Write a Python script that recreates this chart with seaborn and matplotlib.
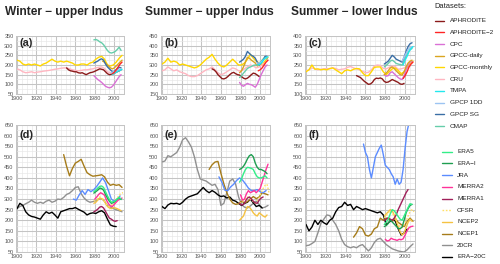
import matplotlib
matplotlib.use("Agg")
import matplotlib.pyplot as plt
from matplotlib.lines import Line2D
from matplotlib.ticker import MultipleLocator
import seaborn as sns

# ---------------- data ----------------
Y3 = list(range(1900, 2009, 3))      # 1900..2008
Y3C = list(range(1900, 2007, 3))     # 1900..2005
Y3E = list(range(1900, 2004, 3))     # 1900..2002
YA = list(range(1951, 2008, 2))      # APHRODITE (winter)
YA2 = list(range(1951, 2000, 2))     # APHRODITE (summer)
YS = list(range(1979, 2009, 2))      # satellite era
YT = [1998, 2000, 2002, 2004, 2006, 2008]
YD = [1997, 1999, 2001, 2003, 2005, 2007]
YGD = list(range(1988, 2009, 2))
YN1 = list(range(1948, 2009, 3))
YJ = list(range(1958, 2007, 3))
YJF = list(range(1958, 2009, 2))
YM2 = list(range(1980, 2009, 2))
YM1 = list(range(1979, 2004, 2))
YCF = list(range(1979, 2010, 2))

# (a) Winter - upper Indus
a_gpccm = [225,220,205,200,205,200,205,200,195,205,210,220,230,220,215,220,215,220,215,210,
           200,200,205,205,200,210,215,230,240,245,230,200,195,200,215,235,250]
a_cru = [180,175,165,160,162,165,160,163,165,168,170,172,175,178,180,183,185,185,180,175,
         172,170,172,175,175,178,180,185,188,190,182,165,160,165,170,175]
a_aphro = [185,175,170,168,165,165,160,158,160,155,150,155,160,162,165,170,175,180,178,175,
           165,155,150,152,155,160,165,170,175]
a_aphro2 = [155,162,175,190,205,215]
a_cmap = [330,332,328,320,315,305,290,275,265,262,265,270,280,292,275]
a_gpcpsg = [210,215,220,228,232,225,205,190,180,170,165,172,180,188,185]
a_cpc = [145,135,125,118,110,100,90,85,82,85,95,110,125,140,150]
a_tmpa = [150,158,162,168,172,178]
a_gpcp1dd = [160,165,168,172,175,178]
a_gpccd = [220,215,205,195,185,180,185,195,205,215,225]

# (b) Summer - upper Indus
b_gpccm = [305,315,335,315,320,315,300,305,300,295,290,285,290,300,315,330,340,355,330,310,
           295,290,300,315,330,315,300,300,310,330,355,335,320,310,300,320,340]
b_cru = [270,275,290,280,270,275,265,260,255,245,240,240,245,255,265,275,280,290,275,260,
         250,255,265,275,285,280,270,270,280,290,300,295,285,290,300,310]
b_aphro = [280,275,265,250,240,230,228,232,240,250,258,262,255,250,248,240,232,228,232,240,
           250,258,255,248,240]
b_gpcpsg = [315,322,330,345,370,360,350,345,335,315,300,310,325,345,345]
b_cpc = [210,195,190,198,205,200,198,192,185,200,225,250,270,290,300]
b_cmap = [235,245,258,270,282,288,292,298,300,300,310,320,330,340,330]
b_gpccd = [260,270,290,315,340,335,325,318,310,295,300,315,330,340,335]
b_tmpa = [300,305,315,330,340,342]
b_aphro2 = [270,275,285,300,315,325]
b_gpcp1dd = [310,310,315,325,335,340]

# (c) Summer - lower Indus
c_gpccm = [215,225,250,228,230,225,228,225,232,235,225,215,205,220,225,220,228,232,230,210,
           195,195,215,238,240,240,215,200,215,230,235,222,205,215,235,258,270]
c_cru = [220,225,235,230,225,228,230,232,230,235,232,225,228,230,238,242,235,230,225,218,
         210,212,225,245,250,248,232,230,238,245,242,228,230,235,240,245]
c_aphro = [195,190,185,175,165,158,150,152,160,175,182,180,183,178,165,160,162,168,175,170,
           165,160,152,150,155]
c_gpcpsg = [255,262,270,285,300,292,280,275,270,265,290,320,345,360,365]
c_cmap = [240,248,258,270,275,268,258,255,252,250,270,295,315,330,335]
c_gpccd = [200,208,220,235,240,232,220,210,200,198,215,240,260,270,275]
c_cpc = [200,192,195,210,215,205,195,185,178,175,195,225,250,265,268]
c_tmpa = [250,275,295,320,335,345]
c_aphro2 = [180,195,215,240,255,265]
c_gpcp1dd = [270,290,310,330,340,345]

# (d) Winter - upper Indus, reanalyses
d_era20c = [255,280,270,240,225,218,215,210,205,225,240,232,238,225,210,240,245,250,255,255,
            260,252,245,238,225,232,235,232,240,245,235,205,178,172,170]
d_20cr = [255,265,270,278,285,295,285,280,285,280,290,295,285,290,300,298,308,322,328,340,
          355,358,325,305,292,285,288,292,300,302,290,270,262,255,250,245,240]
d_ncep1 = [510,455,410,445,470,478,488,455,425,415,408,410,412,415,405,380,365,370,365,368,355]
d_jra = [300,295,320,340,322,345,335,345,360,380,400,378,340,300,290,300,315]
d_era5 = [335,342,352,360,362,355,335,315,298,285,288,292,300,308,300]
d_erai = [328,335,342,352,350,342,322,305,290,280,283,290,300,305,298]
d_merra2 = [300,310,322,330,325,318,295,278,268,265,275,285,295,300,305]
d_merra1 = [240,245,252,262,265,258,242,225,210,205,198,195,198]
d_cfsr = [290,295,302,310,305,298,282,270,265,270,280,292,305,318,328,330]
d_ncep2 = [280,285,295,305,302,295,280,265,258,255,260,258,255,250,245]

# (e) Summer - upper Indus, reanalyses
e_20cr = [475,480,505,500,510,520,545,580,590,570,545,500,440,395,390,385,375,365,370,345,
          270,280,330,385,395,370,310,275,262,258,268,280,290,275,258,262,270]
e_era20c = [265,255,272,280,278,280,275,285,300,310,315,320,325,340,355,340,330,340,332,320,
            312,315,305,310,295,290,280,270,280,285,300,282,265,270,258]
e_ncep1 = [440,462,475,478,422,372,330,300,282,275,278,290,282,288,300,312,302,310,330,325,320]
e_jra = [405,380,342,340,358,370,388,400,390,372,352,340,340,345,335,330,340]
e_erai = [440,445,455,470,490,505,510,500,470,450,440,440,435,430,420]
e_era5 = [380,395,420,440,450,448,445,440,420,405,400,400,405,410,400]
e_merra2 = [320,295,300,325,340,330,335,340,330,340,350,380,410,440,465]
e_merra1 = [280,272,275,290,305,310,300,290,282,280,295,305,310]
e_cfsr = [280,285,295,300,310,305,295,288,280,290,305,330,350,365,370,330]
e_ncep2 = [200,210,220,245,265,262,250,235,225,220,235,228,220,215,225]

# (f) Summer - lower Indus, reanalyses
f_jra = [560,520,500,440,400,450,500,520,540,555,510,460,450,440,420,405,370,395,370,380,
         440,540,620,660,680,660]
f_era20c = [180,150,168,200,180,200,188,180,200,210,240,260,265,285,270,275,250,265,258,250,
            255,250,245,240,235,240,225,178,192,200,198,160,130,140,158]
f_20cr = [80,82,90,100,140,185,205,225,222,200,180,150,110,85,75,70,75,70,80,85,
          70,55,70,95,110,115,100,85,75,65,60,55,52,50,60,75,88]
f_ncep1 = [120,140,170,160,130,125,135,160,168,210,200,210,205,195,210,190,180,170,195,210,195]
f_era5 = [180,190,205,230,250,245,232,218,205,200,220,240,260,278,275]
f_erai = [170,175,185,200,192,182,172,162,160,168,200,235,255,270,275]
f_merra2 = [110,102,105,115,110,108,105,110,108,112,130,150,165,170,172]
f_merra1 = [200,205,212,205,200,210,225,250,270,290,310,330,345]
f_cfsr = [210,222,235,245,235,220,200,180,168,165,178,195,220,240,250,240]
f_ncep2 = [220,230,240,250,245,225,200,170,145,130,140,165,190,205,195]

obs_names = ["APHRODITE", "APHRODITE\u22122", "CPC", "GPCC-daily", "GPCC-monthly",
             "CRU", "TMPA", "GPCP 1DD", "GPCP SG", "CMAP"]
rea_names = ["ERA5", "ERA\u2212I", "JRA", "MERRA2", "MERRA1", "CFSR",
             "NCEP2", "NCEP1", "20CR", "ERA\u221220C"]
panel_titles = ["Winter \u2212 upper Indus", "Summer \u2212 upper Indus", "Summer \u2212 lower Indus"]
panel_tags = ["(a)", "(b)", "(c)", "(d)", "(e)", "(f)"]
top_ylims = [(50, 350), (150, 450), (100, 400)]
x_ticks = [1900, 1920, 1940, 1960, 1980, 2000]

# ---------------- style ----------------
colors = {
    "APHRODITE": "#8B1A1A", "APHRODITE\u22122": "#FF2525", "CPC": "#DA70D6",
    "GPCC-daily": "#DAA520", "GPCC-monthly": "#FFD700", "CRU": "#FFB6C1",
    "TMPA": "#22E8EE", "GPCP 1DD": "#9CC4F2", "GPCP SG": "#3A6EA5", "CMAP": "#66CDAA",
    "ERA5": "#33EE88", "ERA\u2212I": "#1E9E50", "JRA": "#5B8CFF", "MERRA2": "#FF3399",
    "MERRA1": "#A0205A", "CFSR": "#FFE066", "NCEP2": "#F5C242", "NCEP1": "#A67C1A",
    "20CR": "#909090", "ERA\u221220C": "#000000",
}
styles = {n: "-" for n in colors}
styles["CFSR"] = (0, (1.2, 1.2))

sns.set_style("white")
plt.rcParams["font.family"] = ["Liberation Sans", "DejaVu Sans"]

obs_panels = [
    {"GPCC-monthly": (Y3, a_gpccm), "CRU": (Y3C, a_cru), "APHRODITE": (YA, a_aphro),
     "CPC": (YS, a_cpc), "GPCC-daily": (YGD, a_gpccd), "CMAP": (YS, a_cmap),
     "GPCP SG": (YS, a_gpcpsg), "GPCP 1DD": (YD, a_gpcp1dd), "TMPA": (YT, a_tmpa),
     "APHRODITE\u22122": (YT, a_aphro2)},
    {"GPCC-monthly": (Y3, b_gpccm), "CRU": (Y3C, b_cru), "APHRODITE": (YA2, b_aphro),
     "CPC": (YS, b_cpc), "GPCC-daily": (YS, b_gpccd), "CMAP": (YS, b_cmap),
     "GPCP SG": (YS, b_gpcpsg), "GPCP 1DD": (YD, b_gpcp1dd), "TMPA": (YT, b_tmpa),
     "APHRODITE\u22122": (YT, b_aphro2)},
    {"CRU": (Y3C, c_cru), "GPCC-monthly": (Y3, c_gpccm), "APHRODITE": (YA2, c_aphro),
     "CPC": (YS, c_cpc), "GPCC-daily": (YS, c_gpccd), "CMAP": (YS, c_cmap),
     "GPCP SG": (YS, c_gpcpsg), "GPCP 1DD": (YD, c_gpcp1dd), "TMPA": (YT, c_tmpa),
     "APHRODITE\u22122": (YT, c_aphro2)},
]
rea_panels = [
    {"20CR": (Y3, d_20cr), "ERA\u221220C": (Y3E, d_era20c), "NCEP1": (YN1, d_ncep1),
     "JRA": (YJ, d_jra), "NCEP2": (YS, d_ncep2), "CFSR": (YCF, d_cfsr),
     "MERRA1": (YM1, d_merra1), "MERRA2": (YM2, d_merra2), "ERA\u2212I": (YS, d_erai),
     "ERA5": (YS, d_era5)},
    {"20CR": (Y3, e_20cr), "ERA\u221220C": (Y3E, e_era20c), "NCEP1": (YN1, e_ncep1),
     "JRA": (YJ, e_jra), "NCEP2": (YS, e_ncep2), "CFSR": (YCF, e_cfsr),
     "MERRA1": (YM1, e_merra1), "MERRA2": (YM2, e_merra2), "ERA\u2212I": (YS, e_erai),
     "ERA5": (YS, e_era5)},
    {"20CR": (Y3, f_20cr), "ERA\u221220C": (Y3E, f_era20c), "NCEP1": (YN1, f_ncep1),
     "JRA": (YJF, f_jra), "NCEP2": (YS, f_ncep2), "CFSR": (YCF, f_cfsr),
     "MERRA1": (YM1, f_merra1), "MERRA2": (YM2, f_merra2), "ERA\u2212I": (YS, f_erai),
     "ERA5": (YS, f_era5)},
]

W, H = 500.0, 264.0
fig = plt.figure(figsize=(5, 2.64), dpi=100)
lefts = [16, 161, 305]
widths = [108, 109, 110]


def style_ax(ax, ylim, tag):
    ax.set_xlim(1899, 2010)
    ax.set_ylim(*ylim)
    ax.set_xticks(x_ticks)
    ax.xaxis.set_minor_locator(MultipleLocator(5))
    ax.yaxis.set_major_locator(MultipleLocator(50))
    ax.yaxis.set_minor_locator(MultipleLocator(25))
    ax.grid(which="major", color="#C4C4C4", linewidth=0.75)
    ax.grid(which="minor", color="#E6E6E6", linewidth=0.45)
    ax.set_axisbelow(True)
    for s in ax.spines.values():
        s.set_color("#C4C4C4")
        s.set_linewidth(0.7)
    ax.tick_params(which="major", labelsize=4.0, labelcolor="#555555", length=1.2,
                   width=0.5, color="#AAAAAA", pad=0.6)
    ax.tick_params(which="minor", length=0)
    ax.set_xlabel("")
    ax.set_ylabel("")
    ax.text(0.035, 0.96, tag, transform=ax.transAxes, ha="left", va="top",
            fontsize=7.8, fontweight="bold")


for i in range(3):
    ax = fig.add_axes([lefts[i] / W, 1 - 94 / H, widths[i] / W, 58 / H])
    for name, (xs, ys) in obs_panels[i].items():
        sns.lineplot(x=xs, y=ys, ax=ax, color=colors[name], linestyle=styles[name],
                     linewidth=1.0, errorbar=None)
    style_ax(ax, top_ylims[i], panel_tags[i])

    ax = fig.add_axes([lefts[i] / W, 1 - 252 / H, widths[i] / W, 127 / H])
    for name, (xs, ys) in rea_panels[i].items():
        sns.lineplot(x=xs, y=ys, ax=ax, color=colors[name], linestyle=styles[name],
                     linewidth=1.0, errorbar=None)
    style_ax(ax, (50, 650), panel_tags[i + 3])

    cx = (lefts[i] + widths[i] / 2 - 6) / W
    fig.text(cx, 1 - 12 / H, panel_titles[i], ha="center", va="center",
             fontsize=8.6, fontweight="bold")

# ---------------- legend ----------------
fig.text(434 / W, 1 - 7 / H, "Datasets:", ha="left", va="center", fontsize=5.4, color="#222222")
for k, name in enumerate(obs_names):
    yy = 1 - (20.7 + 11.7 * k) / H
    fig.add_artist(Line2D([435 / W, 444 / W], [yy, yy], color=colors[name],
                          linestyle=styles[name], linewidth=1.0, transform=fig.transFigure))
    fig.text(450 / W, yy, name, ha="left", va="center", fontsize=4.6, color="#222222")
for k, name in enumerate(rea_names):
    yy = 1 - (151.7 + 11.7 * k) / H
    fig.add_artist(Line2D([442 / W, 452 / W], [yy, yy], color=colors[name],
                          linestyle=styles[name], linewidth=1.0, transform=fig.transFigure))
    fig.text(457 / W, yy, name, ha="left", va="center", fontsize=4.6, color="#222222")

fig.savefig("out.png", dpi=100)
